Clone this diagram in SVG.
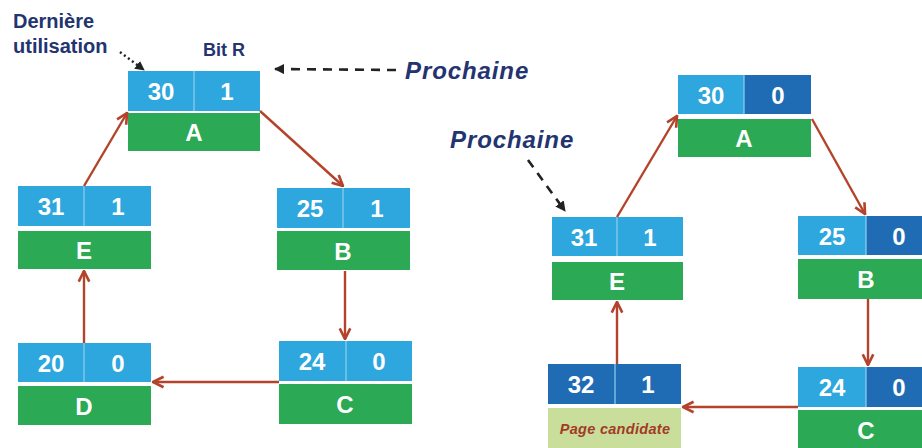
<svg xmlns="http://www.w3.org/2000/svg" width="922" height="448" viewBox="0 0 922 448">
  <style>
    .lb { fill: #2EA6DE; }
    .db { fill: #1F6CB4; }
    .gr { fill: #2BA955; }
    .pc { fill: #C8DE9A; }
    .div { stroke: #8FD0EE; stroke-width: 1.2; }
    .num { font-family: "Liberation Sans", Arial, sans-serif; font-weight: bold; font-size: 24px; fill: #fff; text-anchor: middle; }
    .lbl { font-family: "Liberation Sans", Arial, sans-serif; font-weight: bold; font-size: 20px; fill: #233470; }
    .next { font-family: "Liberation Sans", Arial, sans-serif; font-weight: bold; font-style: italic; font-size: 24px; letter-spacing: 0.9px; fill: #233470; }
    .cand { font-family: "Liberation Sans", Arial, sans-serif; font-weight: bold; font-style: italic; font-size: 14.5px; letter-spacing: 0.3px; fill: #A33A28; text-anchor: middle; }
    .link { stroke: #B4432B; stroke-width: 2.4; fill: none; marker-end: url(#chev); }
    .ptr { stroke: #222; stroke-width: 2.6; fill: none; stroke-dasharray: 9 7; marker-end: url(#tri); }
    .dot { stroke: #222; stroke-width: 2.4; fill: none; stroke-dasharray: 2 3; marker-end: url(#tri); }
  </style>
  <defs>
    <marker id="chev" viewBox="0 0 10 10" refX="9" refY="5" markerWidth="5.5" markerHeight="5.5" orient="auto" markerUnits="strokeWidth">
      <path d="M1,1 L9,5 L1,9" fill="none" stroke="#B4432B" stroke-width="2"/>
    </marker>
    <marker id="tri" viewBox="0 0 10 10" refX="9" refY="5" markerWidth="4" markerHeight="4" orient="auto" markerUnits="strokeWidth">
      <path d="M0,0 L10,5 L0,10 Z" fill="#222"/>
    </marker>
  </defs>

  <!-- labels -->
  <g id="labels">
    <text class="lbl" x="13" y="28">Dernière</text>
    <text class="lbl" x="13" y="53">utilisation</text>
    <text class="lbl" x="203" y="56" style="font-size:18px">Bit R</text>
    <text class="next" x="405" y="79">Prochaine</text>
    <text class="next" x="450" y="148">Prochaine</text>
  </g>

  <!-- left ring -->
  <g id="nodeA1" transform="translate(128,71)">
    <rect class="lb" width="132" height="40"/><line class="div" x1="66" y1="0" x2="66" y2="40"/>
    <rect class="gr" y="42" width="132" height="38"/>
    <text class="num" x="33" y="29">30</text><text class="num" x="99" y="29">1</text>
    <text class="num" x="66" y="70">A</text>
  </g>
  <g id="nodeB1" transform="translate(277,188)">
    <rect class="lb" width="133" height="40"/><line class="div" x1="66" y1="0" x2="66" y2="40"/>
    <rect class="gr" y="43" width="133" height="39"/>
    <text class="num" x="33" y="29">25</text><text class="num" x="100" y="29">1</text>
    <text class="num" x="66" y="72">B</text>
  </g>
  <g id="nodeC1" transform="translate(279,341)">
    <rect class="lb" width="133" height="40"/><line class="div" x1="67" y1="0" x2="67" y2="40"/>
    <rect class="gr" y="43" width="133" height="40"/>
    <text class="num" x="33" y="29">24</text><text class="num" x="100" y="29">0</text>
    <text class="num" x="66" y="72">C</text>
  </g>
  <g id="nodeD1" transform="translate(18,343)">
    <rect class="lb" width="133" height="39"/><line class="div" x1="66" y1="0" x2="66" y2="39"/>
    <rect class="gr" y="43" width="133" height="39"/>
    <text class="num" x="33" y="29">20</text><text class="num" x="100" y="29">0</text>
    <text class="num" x="66" y="72">D</text>
  </g>
  <g id="nodeE1" transform="translate(18,186)">
    <rect class="lb" width="133" height="40"/><line class="div" x1="66" y1="0" x2="66" y2="40"/>
    <rect class="gr" y="45" width="133" height="38"/>
    <text class="num" x="33" y="29">31</text><text class="num" x="100" y="29">1</text>
    <text class="num" x="66" y="73">E</text>
  </g>

  <!-- right ring -->
  <g id="nodeA2" transform="translate(678,75)">
    <rect class="lb" width="66" height="39"/><rect class="db" x="66" width="67" height="39"/>
    <line class="div" x1="66" y1="0" x2="66" y2="39"/>
    <rect class="gr" y="44" width="133" height="38"/>
    <text class="num" x="33" y="29">30</text><text class="num" x="100" y="29">0</text>
    <text class="num" x="66" y="72">A</text>
  </g>
  <g id="nodeB2" transform="translate(798,216)">
    <rect class="lb" width="68" height="39"/><rect class="db" x="68" width="70" height="39"/>
    <line class="div" x1="68" y1="0" x2="68" y2="39"/>
    <rect class="gr" y="43" width="138" height="40"/>
    <text class="num" x="34" y="29">25</text><text class="num" x="101" y="29">0</text>
    <text class="num" x="68" y="72">B</text>
  </g>
  <g id="nodeC2" transform="translate(798,367)">
    <rect class="lb" width="68" height="40"/><rect class="db" x="68" width="70" height="40"/>
    <line class="div" x1="68" y1="0" x2="68" y2="40"/>
    <rect class="gr" y="43" width="138" height="40"/>
    <text class="num" x="34" y="29">24</text><text class="num" x="101" y="29">0</text>
    <text class="num" x="68" y="72">C</text>
  </g>
  <g id="nodeP2" transform="translate(548,364)">
    <rect class="db" width="133" height="40"/>
    <line class="div" x1="67" y1="0" x2="67" y2="40"/>
    <rect class="pc" y="44" width="133" height="40"/>
    <text class="num" x="33" y="29">32</text><text class="num" x="100" y="29">1</text>
    <text class="cand" x="67" y="70">Page candidate</text>
  </g>
  <g id="nodeE2" transform="translate(552,217)">
    <rect class="lb" width="131" height="39"/><line class="div" x1="65" y1="0" x2="65" y2="39"/>
    <rect class="gr" y="45" width="131" height="38"/>
    <text class="num" x="32" y="29">31</text><text class="num" x="98" y="29">1</text>
    <text class="num" x="65" y="73">E</text>
  </g>

  <!-- connectors -->
  <g id="connectors">
    <path class="link" d="M84,186 L127,113"/>
    <path class="link" d="M260,111 L343,186"/>
    <path class="link" d="M345,271 L345,339"/>
    <path class="link" d="M279,382 L153,382"/>
    <path class="link" d="M84,343 L84,271"/>

    <path class="link" d="M617,217 L677,116"/>
    <path class="link" d="M812,119 L865,214"/>
    <path class="link" d="M868,299 L868,365"/>
    <path class="link" d="M798,407 L683,407"/>
    <path class="link" d="M617,364 L617,302"/>

    <path class="ptr" d="M396,70 L275,69"/>
    <path class="ptr" d="M528,160 L565,211"/>
    <path class="dot" d="M120,52 L144,70"/>
  </g>
</svg>
